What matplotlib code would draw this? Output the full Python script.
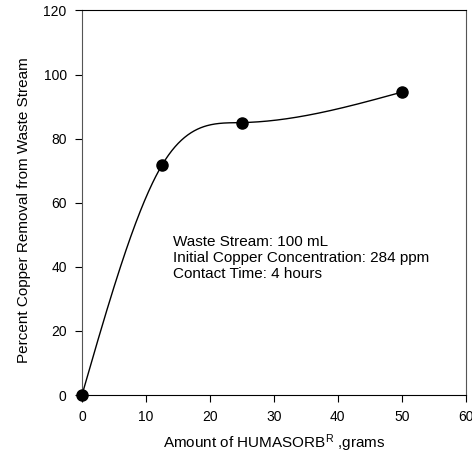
import numpy as np
import matplotlib
matplotlib.use("Agg")
import matplotlib.pyplot as plt

plt.rcParams['font.family'] = ['Liberation Sans', 'DejaVu Sans']
plt.rcParams['mathtext.fontset'] = 'custom'
plt.rcParams['mathtext.rm'] = 'Liberation Sans'
plt.rcParams['mathtext.it'] = 'Liberation Sans'

# data
humasorb_g = [0, 12.5, 25, 50]
removal_pct = [0, 71.7, 85, 94.5]
x_ticks = [0, 10, 20, 30, 40, 50, 60]
y_ticks = [0, 20, 40, 60, 80, 100, 120]
note_lines = ["Waste Stream: 100 mL",
              "Initial Copper Concentration: 284 ppm",
              "Contact Time: 4 hours"]

# natural cubic spline through the points (smooth line like the original)
def natural_spline(xs, ys, xnew):
    xs = np.asarray(xs, float)
    ys = np.asarray(ys, float)
    n = len(xs)
    h = np.diff(xs)
    A = np.zeros((n, n))
    b = np.zeros(n)
    A[0, 0] = 1
    A[-1, -1] = 1
    for i in range(1, n - 1):
        A[i, i - 1] = h[i - 1]
        A[i, i] = 2 * (h[i - 1] + h[i])
        A[i, i + 1] = h[i]
        b[i] = 6 * ((ys[i + 1] - ys[i]) / h[i] - (ys[i] - ys[i - 1]) / h[i - 1])
    M = np.linalg.solve(A, b)
    out = np.zeros_like(xnew)
    for j, x in enumerate(xnew):
        i = min(np.searchsorted(xs, x, side='right') - 1, n - 2)
        i = max(i, 0)
        t1 = xs[i + 1] - x
        t0 = x - xs[i]
        out[j] = (M[i] * t1**3 + M[i + 1] * t0**3) / (6 * h[i]) \
            + (ys[i] / h[i] - M[i] * h[i] / 6) * t1 \
            + (ys[i + 1] / h[i] - M[i + 1] * h[i] / 6) * t0
    return out

fig = plt.figure(figsize=(4.72, 4.53), dpi=100)
ax = fig.add_axes([0.1737, 0.128, 0.813, 0.849])

xs = np.linspace(0, 50, 400)
ax.plot(xs, natural_spline(humasorb_g, removal_pct, xs), color='black', lw=1.0)
ax.plot(humasorb_g, removal_pct, 'o', color='black', ms=8, clip_on=False, zorder=5)

ax.set_xlim(0, 60)
ax.set_ylim(0, 120)
ax.set_xticks(x_ticks)
ax.set_yticks(y_ticks)
ax.tick_params(direction='out', length=5, width=0.8, labelsize=10, pad=6)

for s in ax.spines.values():
    s.set_linewidth(0.8)
ax.spines['left'].set_color('#555555')
ax.spines['right'].set_color('#555555')

ax.text(14.2, 49.8, "\n".join(note_lines), fontsize=11, va='top', ha='left',
        linespacing=1.15)

ax.set_xlabel("Amount of HUMASORB$^{\\rm R}$ ,grams", fontsize=11, labelpad=6)
ax.set_ylabel("Percent Copper Removal from Waste Stream", fontsize=11)
ax.yaxis.set_label_coords(-0.133, 0.481)

fig.savefig("out.png", dpi=100)
